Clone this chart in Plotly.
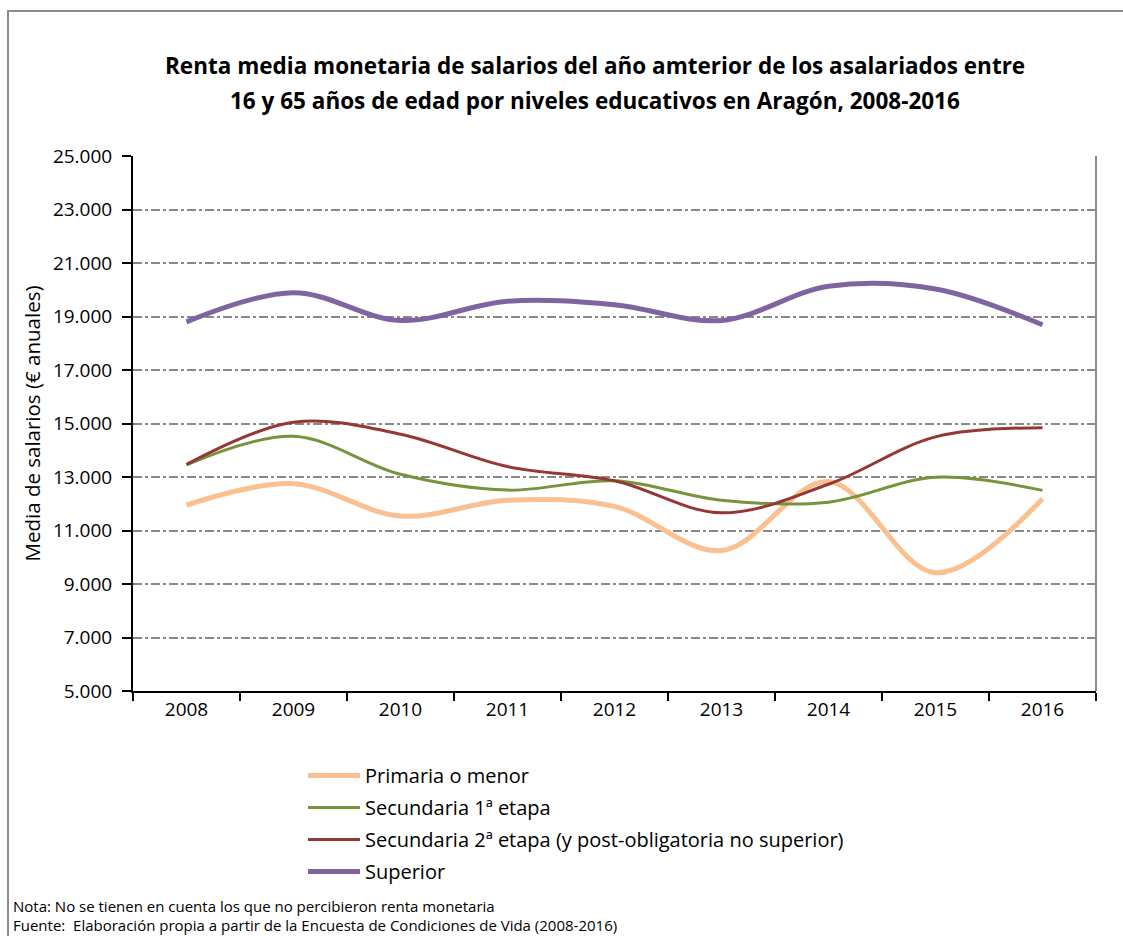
import plotly.graph_objects as go

# Años y renta media (euros anuales) por nivel educativo
years = ["2008", "2009", "2010", "2011", "2012", "2013", "2014", "2015", "2016"]
primaria = [11950, 12750, 11540, 12130, 11900, 10250, 12830, 9420, 12190]
secundaria_1 = [13450, 14520, 13100, 12510, 12860, 12130, 12060, 12990, 12500]
secundaria_2 = [13470, 15050, 14600, 13390, 12860, 11660, 12730, 14500, 14840]
superior = [18800, 19890, 18850, 19570, 19440, 18850, 20130, 20030, 18690]

series_names = [
    "Primaria o menor",
    "Secundaria 1ª etapa",
    "Secundaria 2ª etapa (y post-obligatoria no superior)",
    "Superior",
]
series_values = [primaria, secundaria_1, secundaria_2, superior]
series_colors = ["#FAC090", "#77933C", "#953735", "#8064A2"]
series_widths = [5, 3, 3, 5]

FONT = "'Open Sans', sans-serif"

W, H = 1123, 936
L, R, T, B = 133, 27, 156, 245
pw, ph = W - L - R, H - T - B


def px_x(x):
    return (x - L) / pw


def px_y(y):
    return (H - B - y) / ph


fig = go.Figure()
for i, (name, vals, col, lw) in enumerate(zip(series_names, series_values, series_colors, series_widths)):
    fig.add_trace(go.Scatter(
        x=years, y=vals, name=name, mode="lines",
        line=dict(color=col, width=lw, shape="spline", smoothing=1.0),
        legendgroup=f"g{i}",
        hoverinfo="x+y+name",
    ))

fig.update_layout(
    width=W, height=H,
    margin=dict(l=L, r=R, t=T, b=B),
    paper_bgcolor="white", plot_bgcolor="white",
    separators=",.",
    font=dict(family=FONT, size=18, color="black"),
    showlegend=True,
    legend=dict(
        x=px_x(303), y=px_y(756), xanchor="left", yanchor="top",
        traceorder="grouped", tracegroupgap=3, itemwidth=52,
        font=dict(family=FONT, size=20, color="black"),
        bgcolor="rgba(0,0,0,0)",
    ),
    xaxis=dict(
        type="category", tickson="boundaries", ticks="outside", ticklen=8,
        tickwidth=1.5, tickcolor="black", showline=True, linecolor="black",
        linewidth=2, showgrid=False, zeroline=False,
        tickfont=dict(family=FONT, size=19), range=[-0.5, 8.5],
    ),
    yaxis=dict(
        range=[5000, 25000], tick0=5000, dtick=2000, tickformat=",d",
        ticks="outside", ticklen=9, tickwidth=1.5, tickcolor="black",
        showline=True, linecolor="black", linewidth=2, ticklabelstandoff=6,
        showgrid=True, gridcolor="#888888", griddash="dashdot", gridwidth=1.5,
        zeroline=False, tickfont=dict(family=FONT, size=19),
    ),
)

# Borde derecho del área de trazado y marco exterior del gráfico
fig.add_shape(type="line", xref="paper", yref="paper", x0=1, x1=1, y0=0, y1=1,
              line=dict(color="#8c8c8c", width=2))
fig.add_shape(type="rect", xref="paper", yref="paper",
              x0=px_x(8), x1=px_x(1140), y0=px_y(960), y1=px_y(11),
              line=dict(color="#8c8c8c", width=2), fillcolor="rgba(0,0,0,0)", layer="below")

# Título en dos líneas
title_lines = [
    "Renta media monetaria de salarios del año amterior de los asalariados entre",
    "16 y 65 años de edad por niveles educativos en Aragón, 2008-2016",
]
for line, yc in zip(title_lines, [66, 100]):
    fig.add_annotation(text=f"<b>{line}</b>", xref="paper", yref="paper",
                       x=px_x(595), y=px_y(yc), xanchor="center", yanchor="middle",
                       showarrow=False, font=dict(family=FONT, size=22.5, color="black"))

# Título del eje vertical
fig.add_annotation(text="Media de salarios (€ anuales)", xref="paper", yref="paper",
                   x=px_x(31), y=0.5, textangle=-90, xanchor="center", yanchor="middle",
                   showarrow=False, font=dict(family=FONT, size=20.5, color="black"))

# Notas al pie
notes = [
    "Nota: No se tienen en cuenta los que no percibieron renta monetaria",
    "Fuente:  Elaboración propia a partir de la Encuesta de Condiciones de Vida (2008-2016)",
]
for note, yc in zip(notes, [906, 925]):
    fig.add_annotation(text=note, xref="paper", yref="paper",
                       x=px_x(11), y=px_y(yc), xanchor="left", yanchor="middle",
                       showarrow=False, font=dict(family=FONT, size=15, color="black"))

fig.write_html("out.html")
